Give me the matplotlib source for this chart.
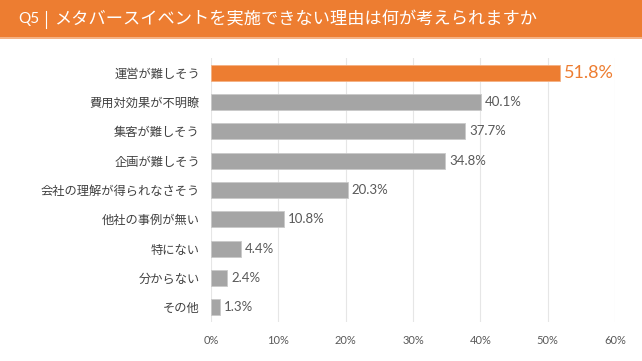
import matplotlib
matplotlib.use("Agg")
import matplotlib.pyplot as plt
from matplotlib.lines import Line2D
from matplotlib.patches import Rectangle

plt.rcParams['font.family'] = ['Noto Sans CJK JP', 'DejaVu Sans']

title_q = "Q5"
title = "メタバースイベントを実施できない理由は何が考えられますか"
categories = ["運営が難しそう", "費用対効果が不明瞭", "集客が難しそう", "企画が難しそう",
              "会社の理解が得られなさそう", "他社の事例が無い", "特にない", "分からない", "その他"]
values = [51.8, 40.1, 37.7, 34.8, 20.3, 10.8, 4.4, 2.4, 1.3]
xticks = [0, 10, 20, 30, 40, 50, 60]

ORANGE = "#ED7D31"
GRAY = "#A5A5A5"
NUMFONT = ['Lato', 'DejaVu Sans']

fig = plt.figure(figsize=(6.42, 3.61), dpi=100)
fig.patch.set_facecolor("white")

# header band
fig.add_artist(Rectangle((0, 1 - 37/361), 1, 37/361, transform=fig.transFigure,
                         facecolor=ORANGE, edgecolor="none"))
fig.add_artist(Rectangle((0, 1 - 39/361), 1, 2/361, transform=fig.transFigure,
                         facecolor="#F4B183", edgecolor="none"))
fig.text(18/642, 1 - 19/361, title_q, color="white", fontsize=11, va="center", ha="left",
         family=NUMFONT)
fig.add_artist(Line2D([46/642, 46/642], [1 - 11/361, 1 - 28/361], transform=fig.transFigure,
                      color="white", lw=0.8))
fig.text(54/642, 1 - 19/361, title, color="white", fontsize=12.4, va="center", ha="left")

ax = fig.add_axes([211/642, 1 - 322/361, (615 - 211)/642, (322 - 58)/361])
y = list(range(len(categories)))
colors = [ORANGE] + [GRAY] * (len(values) - 1)
ax.barh(y, values, height=0.55, color=colors, edgecolor=["#F4B183"] + ["#C9C9C9"] * (len(values) - 1),
        linewidth=0.6, zorder=3)
ax.set_xlim(0, 60)
ax.set_ylim(len(categories) - 0.5, -0.5)
ax.set_xticks(xticks)
ax.set_xticklabels([f"{t}%" for t in xticks], color="#595959", fontsize=8, family=NUMFONT)
ax.set_yticks(y)
ax.set_yticklabels(categories, color="#404040", fontsize=8.8)
ax.tick_params(axis="both", length=0)
ax.tick_params(axis="y", pad=8)
ax.tick_params(axis="x", pad=9)
ax.grid(axis="x", color="#E6E6E6", lw=0.8, zorder=0)
for s in ax.spines.values():
    s.set_visible(False)

for i, v in enumerate(values):
    if i == 0:
        ax.text(v + 0.6, i, f"{v}%", color=ORANGE, fontsize=13, va="center", ha="left",
                family=NUMFONT)
    else:
        ax.text(v + 0.6, i, f"{v}%", color="#595959", fontsize=9.5, va="center", ha="left",
                family=NUMFONT)

fig.savefig("out.png", dpi=100)
